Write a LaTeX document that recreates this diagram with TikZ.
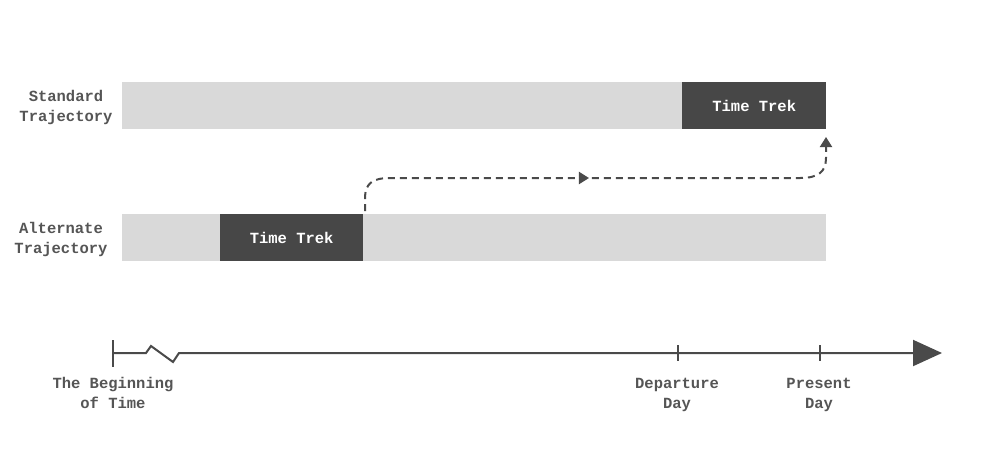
\documentclass[tikz,border=0pt]{standalone}
\usepackage{fontspec}
\setmonofont{Liberation Mono}
\usetikzlibrary{arrows.meta,decorations.markings}
\definecolor{barlight}{HTML}{D9D9D9}
\definecolor{bardark}{HTML}{474747}
\definecolor{ink}{HTML}{4A4A4A}
\definecolor{txt}{HTML}{555555}
\begin{document}
\begin{tikzpicture}[x=1pt,y=-1pt,
  lbl/.style={font=\ttfamily\bfseries\fontsize{15.5}{20}\selectfont, text=txt, align=center, inner sep=0pt},
  lightbar/.style={fill=barlight, draw=none},
  darkbar/.style={fill=bardark, draw=none, text=white, font=\ttfamily\bfseries\fontsize{15.5}{20}\selectfont},
  axis/.style={draw=ink, line width=2pt},
  dashpath/.style={draw=ink, line width=2pt, dash pattern=on 7pt off 5pt}
]
\useasboundingbox (0,0) rectangle (992,448);
% bars
\path[lightbar] (122,82) rectangle (826,129);
\node[darkbar, minimum width=144pt, minimum height=47pt, anchor=north west, inner sep=0pt] (tt1) at (682,82) {Time Trek};
\path[lightbar] (122,214) rectangle (826,261);
\node[darkbar, minimum width=143pt, minimum height=47pt, anchor=north west, inner sep=0pt] (tt2) at (220,214) {Time Trek};
% row labels
\node[lbl] (std) at (66,107) {Standard\\Trajectory};
\node[lbl] (alt) at (61,239) {Alternate\\Trajectory};
% dashed path
\coordinate (ds) at (365,211);
\coordinate (de) at (826,137);
\draw[dashpath, -{Triangle[length=10pt,width=12pt]},
  postaction={decorate},
  decoration={markings, mark=at position 0.48 with {\arrow[ink]{Triangle[length=10pt,width=12pt]}}}]
  (ds) -- (365,198) .. controls (365,184) and (372,178) .. (390,178)
  -- (800,178) .. controls (818,178) and (826,172) .. (826,158) -- (de);
% axis
\coordinate (a0) at (113,353);
\coordinate (aend) at (942,353);
\draw[axis] (113,340) -- (113,367);
\draw[axis, -{Triangle[length=29pt,width=26pt]}] (a0) -- (146,353) -- (151,346) -- (173,362) -- (179,353) -- (aend);
\draw[axis] (678,345) -- (678,361);
\draw[axis] (820,345) -- (820,361);
% axis labels
\node[lbl] (beg) at (113,393) {The Beginning\\of Time};
\node[lbl] (dep) at (677,395) {Departure\\Day};
\node[lbl] (pres) at (819,395) {Present\\Day};
\end{tikzpicture}
\end{document}
